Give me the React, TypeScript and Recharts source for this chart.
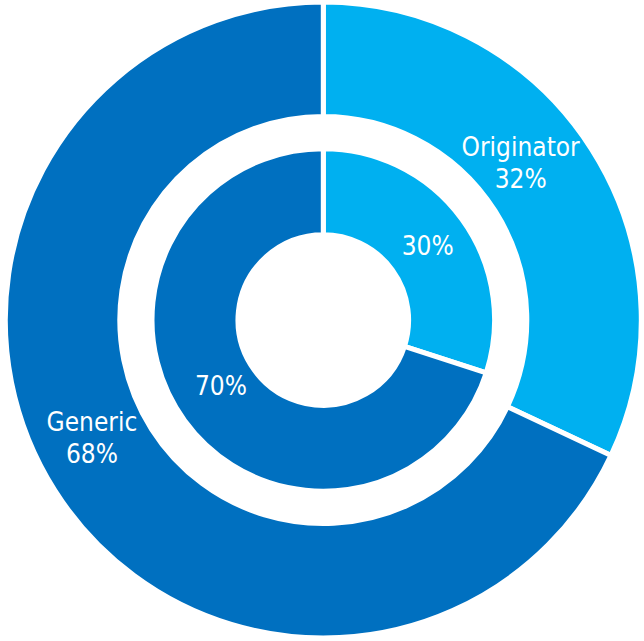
import { PieChart, Pie, Cell } from 'recharts';

const categories = ['Originator', 'Generic'];
const outerValues = [32, 68];
const innerValues = [30, 70];
const COLORS = ['#00B0F0', '#0070C0'];

const outerData = categories.map((name, i) => ({ name, value: outerValues[i] }));
const innerData = categories.map((name, i) => ({ name, value: innerValues[i] }));

const RADIAN = Math.PI / 180;
const FONT = '"DejaVu Sans Condensed", "DejaVu Sans", sans-serif';
// small hand nudges so labels sit where the original put them
const OUTER_NUDGE = [[-23, -16], [-11, -21]];
const INNER_NUDGE = [[0, 2], [2, -10]];

const outerLabel = (props: any) => {
  const { cx, cy, midAngle, index, name, percent } = props;
  const r = 261;
  const x = cx + r * Math.cos(-midAngle * RADIAN) + OUTER_NUDGE[index][0];
  const y = cy + r * Math.sin(-midAngle * RADIAN) + OUTER_NUDGE[index][1];
  return (
    <text x={x} y={y} fill="#fff" textAnchor="middle" fontFamily={FONT} fontSize={26}>
      <tspan x={x} dy={-8}>{name}</tspan>
      <tspan x={x} dy={32}>{`${Math.round(percent * 100)}%`}</tspan>
    </text>
  );
};

const innerLabel = (props: any) => {
  const { cx, cy, midAngle, index, percent } = props;
  const r = 129;
  const x = cx + r * Math.cos(-midAngle * RADIAN) + INNER_NUDGE[index][0];
  const y = cy + r * Math.sin(-midAngle * RADIAN) + INNER_NUDGE[index][1];
  return (
    <text x={x} y={y} fill="#fff" textAnchor="middle" dominantBaseline="central" fontFamily={FONT} fontSize={26}>
      {`${Math.round(percent * 100)}%`}
    </text>
  );
};

const App = () => (
  <div style={{ position: 'absolute', left: 0, top: 0, width: 644, height: 641, background: '#fff' }}>
    <PieChart width={644} height={641} margin={{ top: 0, right: 0, bottom: 0, left: 0 }}>
      <Pie
        data={outerData}
        dataKey="value"
        cx={323.3}
        cy={320}
        innerRadius={203.5}
        outerRadius={318}
        startAngle={90}
        endAngle={-270}
        stroke="#fff"
        strokeWidth={5}
        label={outerLabel}
        labelLine={false}
        isAnimationActive={false}
      >
        {outerData.map((_e, i) => (
          <Cell key={`o-${i}`} fill={COLORS[i]} />
        ))}
      </Pie>
      <Pie
        data={innerData}
        dataKey="value"
        cx={323.3}
        cy={320}
        innerRadius={85.3}
        outerRadius={171.3}
        startAngle={90}
        endAngle={-270}
        stroke="#fff"
        strokeWidth={5}
        label={innerLabel}
        labelLine={false}
        isAnimationActive={false}
      >
        {innerData.map((_e, i) => (
          <Cell key={`i-${i}`} fill={COLORS[i]} />
        ))}
      </Pie>
    </PieChart>
  </div>
);

export default App;
